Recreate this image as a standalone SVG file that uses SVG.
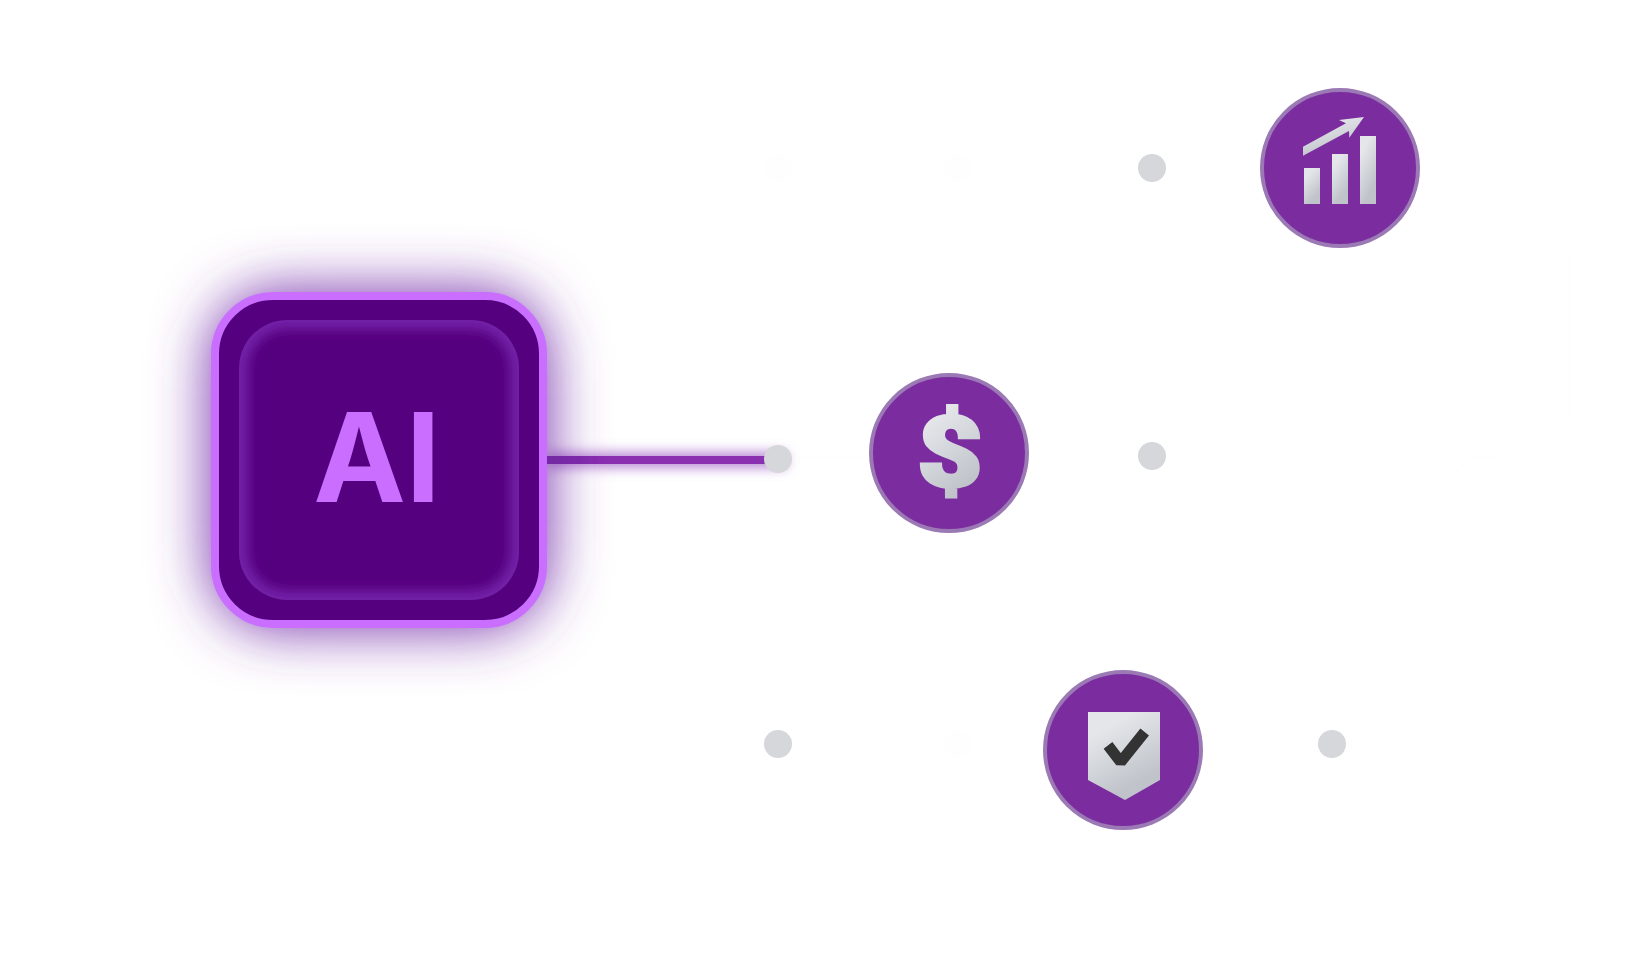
<svg xmlns="http://www.w3.org/2000/svg" width="1640" height="960" viewBox="0 0 1640 960">
<style>
.node{fill:#7b2da0;stroke:#9b79b5;stroke-width:4}
.dot{fill:#d6d7db}
.ghost{fill:#fefefe}
.wire{fill:none;stroke:#fefefe;stroke-width:1.5}
.icon{fill:url(#metal)}
</style>
<defs>
<linearGradient id="metal" x1="0.2" y1="0.1" x2="0.6" y2="0.95"><stop offset="0.1" stop-color="#e4e6ea"/><stop offset="0.9" stop-color="#c0c4ca"/></linearGradient>
<linearGradient id="wireFill" gradientUnits="userSpaceOnUse" x1="547" y1="0" x2="778" y2="0"><stop offset="0" stop-color="#6c1c9c"/><stop offset="0.25" stop-color="#8a2fb0"/><stop offset="1" stop-color="#8a2fb0"/></linearGradient>
<filter id="glow" x="-60%" y="-60%" width="220%" height="220%"><feGaussianBlur stdDeviation="28"/></filter>
<filter id="lineGlow" x="-20%" y="-800%" width="140%" height="1700%"><feGaussianBlur stdDeviation="6"/></filter>
<filter id="innerGlow" x="-20%" y="-20%" width="140%" height="140%"><feGaussianBlur stdDeviation="6"/></filter>
<clipPath id="innerClip"><rect x="239" y="320" width="280" height="280" rx="48"/></clipPath>
</defs>
<rect width="1640" height="960" fill="#ffffff"/>
<g id="connectors">
<path class="wire" d="M798 458H920M980 456H1152H1500M778 168H1152M1410 168H1500Q1560 180 1570 250V420Q1580 445 1600 457M1500 457H1480Q1440 470 1435 520V700Q1430 744 1400 744H1332M778 744H1040"/>
<rect x="547" y="452" width="240" height="16" fill="#b98ad6" filter="url(#lineGlow)"/>
<rect x="547" y="456" width="231" height="8" fill="url(#wireFill)"/>
</g>
<g id="ai-chip">
<rect x="209" y="290" width="340" height="340" rx="70" fill="#7c38ad" filter="url(#glow)"/>
<rect x="215" y="296" width="328" height="328" rx="58" fill="#55007f" stroke="#c96eff" stroke-width="8"/>
<g clip-path="url(#innerClip)"><rect x="239" y="320" width="280" height="280" rx="48" fill="none" stroke="#7320a8" stroke-width="18" filter="url(#innerGlow)"/></g>
<text x="377" y="502" text-anchor="middle" font-family="Inter,'Liberation Sans',sans-serif" font-weight="700" font-size="124" fill="#c96eff">AI</text>
</g>
<g id="dot-1"><circle class="ghost" cx="778" cy="168" r="14"/></g>
<g id="dot-2"><circle class="ghost" cx="958" cy="168" r="14"/></g>
<g id="dot-3"><circle class="dot" cx="1152" cy="168" r="14"/></g>
<g id="dot-4"><circle class="dot" cx="778" cy="459" r="14"/></g>
<g id="dot-5"><circle class="dot" cx="1152" cy="456" r="14"/></g>
<g id="dot-6"><circle class="dot" cx="778" cy="744" r="14"/></g>
<g id="dot-7"><circle class="ghost" cx="958" cy="744" r="14"/></g>
<g id="dot-8"><circle class="dot" cx="1332" cy="744" r="14"/></g>
<g id="node-growth">
<circle class="node" cx="1340" cy="168" r="78"/>
<rect class="icon" x="1304" y="168" width="16" height="36"/>
<rect class="icon" x="1332" y="154" width="16" height="50"/>
<rect class="icon" x="1360" y="136" width="16" height="68"/>
<polygon class="icon" points="1303,146.7 1346,123.3 1339,120 1364,117 1349.3,137.7 1349,131 1303,155.7"/>
</g>
<g id="node-cost">
<circle class="node" cx="949" cy="453" r="78"/>
<text class="icon" transform="translate(950 487) scale(1.16 1)" text-anchor="middle" font-family="Roboto,sans-serif" font-weight="900" font-size="98" stroke="url(#metal)" stroke-width="3" stroke-linejoin="miter">$</text>
</g>
<g id="node-trust">
<circle class="node" cx="1123" cy="750" r="78"/>
<polygon class="icon" points="1088,712 1160,712 1160,780 1125,800 1088,780"/>
<polyline points="1108,745.3 1120.7,762 1144.7,732" fill="none" stroke="#333333" stroke-width="11" stroke-linejoin="bevel"/>
</g>
</svg>
